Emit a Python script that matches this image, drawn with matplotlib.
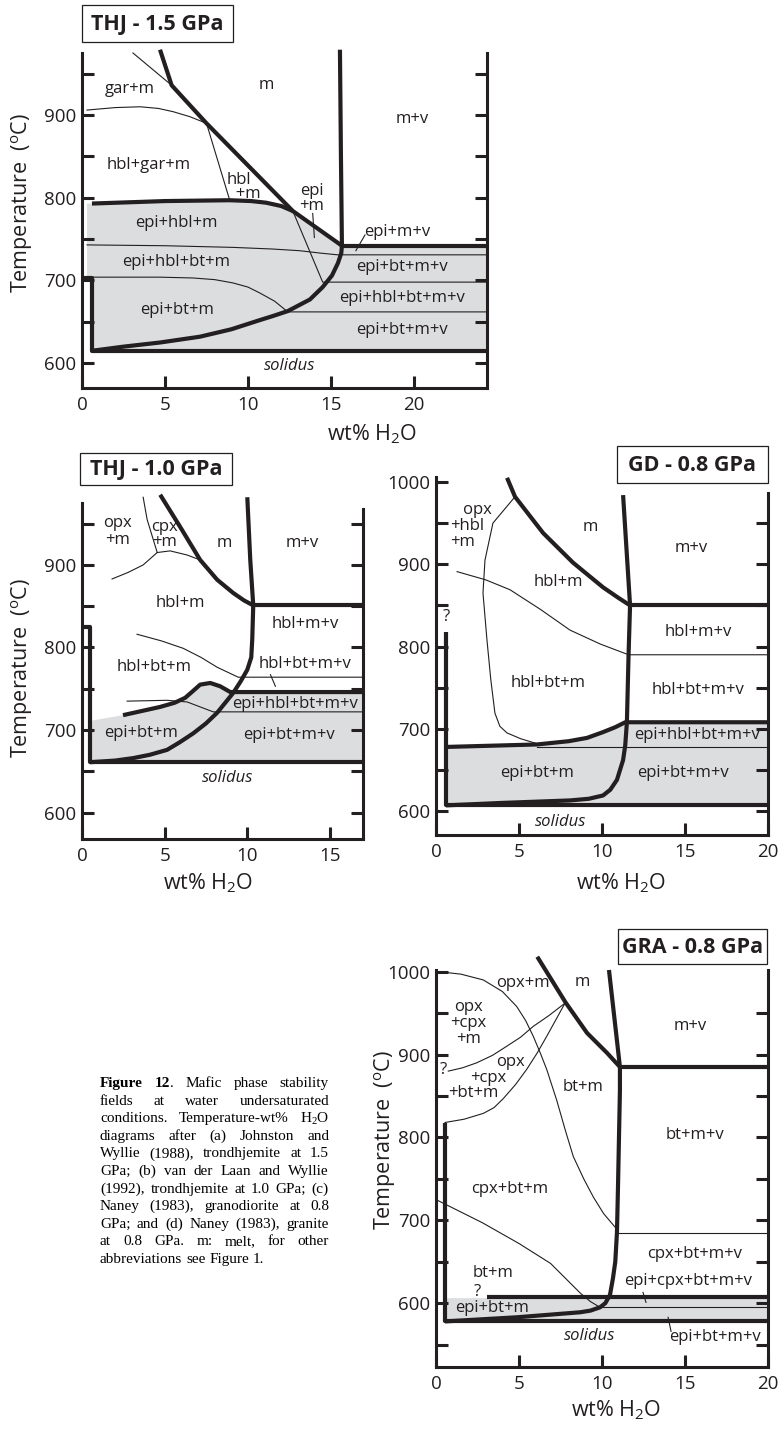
import numpy as np
import matplotlib
matplotlib.use("Agg")
import matplotlib.pyplot as plt
from matplotlib.patches import Rectangle

plt.rcParams['font.family'] = ['Open Sans', 'DejaVu Sans']
plt.rcParams['mathtext.fontset'] = 'custom'
plt.rcParams['mathtext.rm'] = 'Open Sans'
plt.rcParams['mathtext.it'] = 'Open Sans:italic'
plt.rcParams['mathtext.bf'] = 'Open Sans:bold'
plt.rcParams['mathtext.sf'] = 'Liberation Serif'

# ======================= DATA =======================
# ---- Panel (a) THJ - 1.5 GPa ----
A_XLIM = (0, 24.4); A_YLIM = (570, 975)
A_XTICKS = [0, 5, 10, 15, 20]
A_YTICKS = [600, 700, 800, 900]; A_YMINOR = [650, 750, 850, 950]
A_RTICKS = [600, 650, 700, 750, 800, 850, 900, 950]
A_LIQ_X = [4.7, 5.4, 7.5, 12.7, 15.66];  A_LIQ_T = [979, 936, 890, 784, 742]
A_SAT_X = [15.54, 15.6, 15.66, 15.62, 15.42, 15.06, 14.5, 13.73, 12.4, 11.5, 10.7, 9.0, 7.1, 4.7, 2.5, 0.6]
A_SAT_T = [979, 850, 742, 733, 721, 706, 692, 677, 663, 657, 652, 641, 632, 625, 620, 615]
A_EPI_X = [0.6, 5.0, 8.9, 10.2, 11.1, 12.0, 12.7];  A_EPI_T = [793, 796, 797, 796, 794, 790, 784]
A_BOX_X = [0, 0.6, 0.6, 24.4];          A_BOX_T = [703, 703, 615, 615]
A_VAP_X = [15.66, 24.4];                A_VAP_T = [742, 742]
A_T1_X = [3.07, 5.4];                   A_T1_T = [975, 936]
A_T2_X = [0.3, 2.0, 3.5, 4.6, 5.5, 6.5, 7.5]; A_T2_T = [906, 909, 910, 908, 904, 898, 890]
A_T3_X = [7.5, 8.9];                    A_T3_T = [890, 797]
A_T4_X = [0.3, 5.0, 9.1, 11.5, 13.1, 14.4, 15.4, 24.4]; A_T4_T = [743, 742, 740, 738, 736, 733, 731, 731]
A_T5_X = [0.6, 4.7, 6.7, 8.0, 9.1, 10.0, 10.7, 11.6, 12.4, 24.4]
A_T5_T = [704, 704, 703, 701, 697, 692, 685, 675, 662, 662]
A_T6_X = [12.7, 14.5, 24.4];            A_T6_T = [784, 698, 698]
A_L1_X = [13.9, 14.0];                  A_L1_T = [781, 752]
A_L2_X = [17.05, 16.5];                 A_L2_T = [755, 736]
A_GREY_X = [0.3, 0.6, 5.0, 8.9, 10.2, 11.1, 12.0, 12.7, 15.66, 24.4, 24.4, 0.6, 0.6, 0.3]
A_GREY_T = [793, 793, 796, 797, 796, 794, 790, 784, 742, 742, 615, 615, 703, 703]
A_LABELS = [('gar+m', 2.9, 931), ('m', 11.1, 936), ('m+v', 19.9, 895),
            ('hbl+gar+m', 4.0, 840), ('hbl\n  +m', 9.75, 813, 0.88),
            ('epi\n+m', 13.83, 799, 0.95), ('epi+hbl+m', 5.7, 769),
            ('epi+hbl+bt+m', 5.7, 722), ('epi+bt+m', 5.7, 664), ('epi+m+v', 19.0, 759),
            ('epi+bt+m+v', 19.3, 716), ('epi+hbl+bt+m+v', 19.3, 679), ('epi+bt+m+v', 19.3, 640)]
A_SOLIDUS = (12.5, 596)

# ---- Panel (b) THJ - 1.0 GPa ----
B_XLIM = (0, 17.0); B_YLIM = (568, 975)
B_XTICKS = [0, 5, 10, 15]
B_YTICKS = [600, 700, 800, 900]; B_YMINOR = [650, 750, 850, 950]
B_RTICKS = [600, 650, 700, 750, 800, 850, 900, 950]
B_LIQ_X = [4.73, 5.94, 7.15, 8.18, 9.15, 9.8, 10.36]; B_LIQ_T = [985, 946, 906, 882, 866, 857, 851]
B_SAT_X = [10.0, 10.18, 10.36, 10.3, 10.24, 10.0, 9.6, 9.15, 8.18, 7.5, 6.73, 5.9, 5.15, 4.1, 3.1, 2.0, 0.48]
B_SAT_T = [982, 906, 851, 810, 788, 773, 759, 745, 721, 708, 696, 685, 676, 670, 666, 663, 661]
B_VAP_X = [10.36, 17.0];  B_VAP_T = [851, 851]
B_EPI_X = [2.48, 4.73, 5.6, 6.24, 6.7, 7.15, 7.76, 8.36, 8.97, 17.0]
B_EPI_T = [718, 728, 733, 739, 747, 755, 757, 753, 746, 746]
B_BOX_X = [0, 0.48, 0.48, 17.0]; B_BOX_T = [825, 825, 661, 661]
B_T1_X = [3.7, 3.94, 4.55];      B_T1_T = [982, 955, 915]
B_T2_X = [1.82, 2.8, 3.7, 4.55, 5.33, 6.36, 7.15]; B_T2_T = [883, 891, 900, 915, 917, 912, 906]
B_T3_X = [3.33, 4.8, 6.12, 7.2, 8.18, 9.45, 17.0]; B_T3_T = [816, 808, 799, 788, 776, 764, 764]
B_T4_X = [2.73, 5.15, 6.36, 7.94, 17.0];           B_T4_T = [735, 736, 734, 722, 722]
B_L1_X = [11.4, 11.7];  B_L1_T = [767, 753]
B_GREY_X = [0.48, 2.48, 4.73, 5.6, 6.24, 6.7, 7.15, 7.76, 8.36, 8.97, 17.0, 17.0, 0.48]
B_GREY_T = [711, 718, 728, 733, 739, 747, 755, 757, 753, 746, 746, 661, 661]
B_LABELS = [('opx\n+m', 2.15, 940, 1.1), ('cpx\n+m', 5.0, 937, 0.95),
            ('m', 8.6, 927), ('m+v', 13.3, 927), ('hbl+m', 5.94, 854), ('hbl+m+v', 13.5, 828),
            ('hbl+bt+m', 4.36, 776), ('hbl+bt+m+v', 13.5, 780), ('epi+hbl+bt+m+v', 12.9, 732),
            ('epi+bt+m', 3.6, 696), ('epi+bt+m+v', 12.5, 694)]
B_SOLIDUS = (8.8, 642)

# ---- Panel (c) GD - 0.8 GPa ----
C_XLIM = (0, 20); C_YLIM = (571, 1006)
C_XTICKS = [0, 5, 10, 15, 20]
C_YTICKS = [600, 700, 800, 900, 1000]; C_YMINOR = [650, 750, 850, 950]
C_RTICKS = [600, 650, 700, 750, 800, 850, 900, 950]
C_LIQ_X = [4.28, 4.76, 6.45, 8.25, 10.06, 11.0, 11.69]; C_LIQ_T = [1005, 982, 938, 902, 872, 859, 850]
C_SAT_X = [11.27, 11.69, 11.6, 11.5, 11.4, 11.27, 10.9, 10.5, 10.06, 9.2, 8.07, 4.0, 0.6]
C_SAT_T = [984, 850, 790, 708, 680, 662, 638, 626, 619, 615, 613, 610, 607]
C_VAP_X = [11.69, 20]; C_VAP_T = [850, 850]
C_EPI_X = [0.6, 6.08, 8.0, 9.1, 10.06, 10.8, 11.4, 20]; C_EPI_T = [678, 681, 685, 689, 696, 702, 708, 708]
C_BOX_X = [0.6, 0.6, 20]; C_BOX_T = [818, 607, 607]
C_T1_X = [1.27, 3.0, 4.46, 6.3, 8.07, 9.9, 11.6, 20];  C_T1_T = [891, 881, 869, 845, 820, 803, 790, 790]
C_T2_X = [4.76, 3.43, 2.95, 2.83, 3.07, 3.3, 3.55, 3.85, 4.28, 5.1, 6.08]
C_T2_T = [982, 950, 905, 865, 808, 760, 719, 703, 695, 688, 682]
C_T3_X = [6.08, 20];  C_T3_T = [678, 678]
C_GREY_X = [0.6, 6.08, 8.0, 9.1, 10.06, 10.8, 11.4, 20, 20, 0.6]
C_GREY_T = [678, 681, 685, 689, 696, 702, 708, 708, 607, 607]
C_LABELS = [('   opx\n+hbl\n+m', 2.1, 946, 1.0), ('m', 9.28, 945),
            ('m+v', 15.4, 920), ('hbl+m', 7.4, 878), ('hbl+m+v', 15.8, 818),
            ('hbl+bt+m', 6.75, 756), ('hbl+bt+m+v', 15.8, 747), ('epi+hbl+bt+m+v', 15.7, 692),
            ('epi+bt+m', 6.1, 646), ('epi+bt+m+v', 14.9, 646), ('?', 0.6, 836)]
C_SOLIDUS = (7.5, 587)

# ---- Panel (d) GRA - 0.8 GPa ----
D_XLIM = (0, 20); D_YLIM = (523, 1002)
D_XTICKS = [0, 5, 10, 15, 20]
D_YTICKS = [600, 700, 800, 900, 1000]; D_YMINOR = [550, 650, 750, 850, 950]
D_RTICKS = [550, 600, 650, 700, 750, 800, 850, 900, 950]
D_LIQ_X = [6.1, 7.8, 9.1, 10.3, 11.08]; D_LIQ_T = [1018, 963, 926, 902, 885]
D_SAT_X = [10.42, 11.08, 11.08, 10.96, 10.9, 10.8, 10.66, 10.48, 10.2, 9.88, 9.3, 8.67, 4.88, 0.54]
D_SAT_T = [1002, 885, 857, 737, 685, 650, 630, 610, 600, 595, 591, 589, 583, 578]
D_VAP_X = [11.08, 20]; D_VAP_T = [885, 885]
D_EPI_X = [3.1, 20];   D_EPI_T = [607, 607]
D_BOX_X = [0.54, 0.54, 20]; D_BOX_T = [818, 578, 578]
D_T1_X = [0.14, 1.5, 2.85, 4.0, 4.86, 5.4, 5.86, 6.3, 6.67, 7.27, 7.8, 8.27, 8.9, 9.48, 10.1, 10.78]
D_T1_T = [1000, 997, 990, 976, 958, 941, 922, 901, 882, 845, 808, 777, 750, 728, 708, 692]
D_T2_X = [0.74, 1.6, 2.45, 3.4, 4.26, 5.1, 5.86, 6.8, 7.77]
D_T2_T = [880, 884, 890, 899, 910, 921, 934, 947, 962]
D_T3_X = [0.54, 1.7, 2.85, 3.5, 4.06, 4.8, 5.46, 6.1, 6.67, 7.25, 7.77]
D_T3_T = [818, 822, 829, 836, 847, 864, 882, 902, 922, 943, 962]
D_T4_X = [0, 2.8, 5.0, 6.9, 8.0, 8.7, 9.3, 9.88]; D_T4_T = [725, 697, 672, 648, 626, 612, 602, 595]
D_T5_X = [10.9, 20]; D_T5_T = [685, 685]
D_T6_X = [9.88, 20]; D_T6_T = [595, 595]
D_L1_X = [12.47, 12.65]; D_L1_T = [613, 601]
D_L2_X = [13.98, 14.16]; D_L2_T = [583, 566]
D_GREY_X = [0.54, 20, 20, 0.54]; D_GREY_T = [606, 607, 578, 577]
D_LABELS = [('opx+m', 5.24, 986), ('m', 8.8, 987), ('m+v', 15.3, 934),
            ('opx\n+cpx\n+m', 1.95, 938, 1.0),
            ('opx', 4.46, 891), ('+cpx', 3.13, 872), ('+bt+m', 2.23, 854),
            ('bt+m', 8.86, 861), ('bt+m+v', 15.6, 803), ('cpx+bt+m', 4.46, 738),
            ('cpx+bt+m+v', 15.6, 659), ('epi+cpx+bt+m+v', 15.2, 627), ('bt+m', 3.43, 636),
            ('epi+bt+m', 3.37, 594), ('epi+bt+m+v', 16.8, 559), ('?', 2.47, 613), ('?', 0.42, 881)]
D_SOLIDUS = (9.28, 561)

TITLES = ['THJ - 1.5 GPa', 'THJ - 1.0 GPa', 'GD - 0.8 GPa', 'GRA - 0.8 GPa']
XLABEL = 'wt% H$_\\mathrm{2}$O'
YLABEL = 'Temperature  ($^\\mathrm{o}$C)'

CAP_LINES = [
    "Figure 12. Mafic phase stability",
    "fields at water undersaturated",
    "conditions. Temperature-wt% H$_\\mathsf{2}$O",
    "diagrams after (a) Johnston and",
    "Wyllie (1988), trondhjemite at 1.5",
    "GPa; (b) van der Laan and Wyllie",
    "(1992), trondhjemite at 1.0 GPa; (c)",
    "Naney (1983), granodiorite at 0.8",
    "GPa; and (d) Naney (1983), granite",
    "at 0.8 GPa. m: melt, for other",
    "abbreviations see Figure 1.",
]

# ======================= STYLE =======================
W, H = 778, 1430
INK = '#231f20'
GREY = '#dcdddf'
LW_THICK = 3.0
LW_THIN = 0.8
LW_AXIS = 2.2
FS_TICK = 13.5
FS_AXLAB = 15.5
FS_FIELD = 12
FS_TITLE = 15.5
FS_CAP = 11
SERIF = ['Liberation Serif', 'DejaVu Serif']

fig = plt.figure(figsize=(W / 100, H / 100), dpi=100)


def px_axes(left, right, top, bottom):
    return fig.add_axes([left / W, 1 - bottom / H, (right - left) / W, (bottom - top) / H])


def panel(ax, xlim, ylim, xticks, yticks, yminor, rticks, rtop,
          thick, thin, grey, labels, solidus):
    ax.set_xlim(*xlim)
    ax.set_ylim(*ylim)
    ax.patch.set_visible(False)
    ax.fill(grey[0], grey[1], color=GREY, lw=0, zorder=1)
    for xs, ts in thin:
        ax.plot(xs, ts, color=INK, lw=LW_THIN, clip_on=False, zorder=2,
                solid_joinstyle='round')
    for xs, ts in thick:
        ax.plot(xs, ts, color=INK, lw=LW_THICK, solid_capstyle='butt',
                solid_joinstyle='round', clip_on=False, zorder=3)
    for lab in labels:
        txt, x, t = lab[:3]
        ls = lab[3] if len(lab) > 3 else 1.0
        ax.text(x, t, txt, ha='center', va='center', fontsize=FS_FIELD, color=INK,
                zorder=4, linespacing=ls,
                multialignment='left' if '  ' in txt else 'center')
    ax.text(solidus[0], solidus[1], 'solidus', ha='center', va='center',
            fontsize=FS_FIELD, style='italic', color=INK)
    ax.spines['top'].set_visible(False)
    ax.spines['right'].set_visible(False)
    for s in ['left', 'bottom']:
        ax.spines[s].set_linewidth(LW_AXIS)
        ax.spines[s].set_color(INK)
    ax.set_xticks(xticks)
    ax.set_yticks(yticks)
    ax.set_yticks(yminor, minor=True)
    ax.tick_params(axis='both', which='both', direction='in', length=8.5, width=LW_AXIS,
                   color=INK, labelsize=FS_TICK, labelcolor=INK)
    ax.tick_params(axis='y', which='both', right=False, pad=4)
    ax.tick_params(axis='x', pad=6)
    tw = ax.twinx()
    tw.set_ylim(*ylim)
    tw.patch.set_visible(False)
    for s in ['left', 'bottom', 'top']:
        tw.spines[s].set_visible(False)
    tw.spines['right'].set_linewidth(LW_AXIS)
    tw.spines['right'].set_color(INK)
    tw.spines['right'].set_bounds(ylim[0], rtop)
    tw.set_yticks(rticks)
    tw.tick_params(axis='y', direction='in', length=8.5, width=LW_AXIS, color=INK,
                   labelright=False)


axA = px_axes(82, 487, 53, 388)
panel(axA, A_XLIM, A_YLIM, A_XTICKS, A_YTICKS, A_YMINOR, A_RTICKS, A_YLIM[1],
      [(A_LIQ_X, A_LIQ_T), (A_SAT_X, A_SAT_T), (A_EPI_X, A_EPI_T), (A_BOX_X, A_BOX_T),
       (A_VAP_X, A_VAP_T)],
      [(A_T1_X, A_T1_T), (A_T2_X, A_T2_T), (A_T3_X, A_T3_T), (A_T4_X, A_T4_T),
       (A_T5_X, A_T5_T), (A_T6_X, A_T6_T), (A_L1_X, A_L1_T), (A_L2_X, A_L2_T)],
      (A_GREY_X, A_GREY_T), A_LABELS, A_SOLIDUS)

axB = px_axes(82, 363, 503, 839)
panel(axB, B_XLIM, B_YLIM, B_XTICKS, B_YTICKS, B_YMINOR, B_RTICKS, 968,
      [(B_LIQ_X, B_LIQ_T), (B_SAT_X, B_SAT_T), (B_EPI_X, B_EPI_T), (B_BOX_X, B_BOX_T),
       (B_VAP_X, B_VAP_T)],
      [(B_T1_X, B_T1_T), (B_T2_X, B_T2_T), (B_T3_X, B_T3_T), (B_T4_X, B_T4_T),
       (B_L1_X, B_L1_T)],
      (B_GREY_X, B_GREY_T), B_LABELS, B_SOLIDUS)

axC = px_axes(436, 768, 477, 835)
panel(axC, C_XLIM, C_YLIM, C_XTICKS, C_YTICKS, C_YMINOR, C_RTICKS, 987,
      [(C_LIQ_X, C_LIQ_T), (C_SAT_X, C_SAT_T), (C_EPI_X, C_EPI_T), (C_BOX_X, C_BOX_T),
       (C_VAP_X, C_VAP_T)],
      [(C_T1_X, C_T1_T), (C_T2_X, C_T2_T), (C_T3_X, C_T3_T)],
      (C_GREY_X, C_GREY_T), C_LABELS, C_SOLIDUS)

axD = px_axes(436, 768, 970, 1367)
panel(axD, D_XLIM, D_YLIM, D_XTICKS, D_YTICKS, D_YMINOR, D_RTICKS, D_YLIM[1],
      [(D_LIQ_X, D_LIQ_T), (D_SAT_X, D_SAT_T), (D_EPI_X, D_EPI_T), (D_BOX_X, D_BOX_T),
       (D_VAP_X, D_VAP_T)],
      [(D_T1_X, D_T1_T), (D_T2_X, D_T2_T), (D_T3_X, D_T3_T), (D_T4_X, D_T4_T),
       (D_T5_X, D_T5_T), (D_T6_X, D_T6_T), (D_L1_X, D_L1_T), (D_L2_X, D_L2_T)],
      (D_GREY_X, D_GREY_T), D_LABELS, D_SOLIDUS)


def ftext(x, y, s, **kw):
    return fig.text(x / W, 1 - y / H, s, **kw)


# axis labels
for (x, y) in [(372, 434), (208, 883), (621, 883), (616, 1410)]:
    ftext(x, y, XLABEL, ha='center', va='center', fontsize=FS_AXLAB, color=INK)
for (x, y) in [(22, 203), (22, 668), (385, 1140)]:
    ftext(x, y, YLABEL, ha='center', va='center', rotation=90, fontsize=FS_AXLAB, color=INK)

# title boxes
for title, (x0, x1, y0, y1) in zip(TITLES, [(82, 233, 5, 42), (80, 232, 453, 485),
                                            (617, 768, 446, 483), (618, 767, 929, 964)]):
    fig.add_artist(Rectangle((x0 / W, 1 - y1 / H), (x1 - x0) / W, (y1 - y0) / H,
                             transform=fig.transFigure, fill=False, lw=0.9, ec=INK))
    ftext((x0 + x1) / 2, (y0 + y1) / 2 + 1, title, ha='center', va='center',
          fontsize=FS_TITLE, weight='bold', color=INK)

# justified caption
renderer = fig.canvas.get_renderer()


def seg_width(s, weight):
    t = fig.text(0, 0, s, fontsize=FS_CAP, family=SERIF, weight=weight)
    w = t.get_window_extent(renderer).width
    t.remove()
    return w


CAP_X0, CAP_X1, CAP_Y0, CAP_DY = 100, 329, 1087, 17.6
for i, line in enumerate(CAP_LINES):
    words = []
    for w in line.split(' '):
        if i == 0 and w == 'Figure':
            words.append([(w, 'bold')])
        elif i == 0 and w == '12.':
            words.append([('12', 'bold'), ('.', 'normal')])
        else:
            words.append([(w, 'normal')])
    widths = [[seg_width(s, wt) for s, wt in word] for word in words]
    total = sum(sum(ws) for ws in widths)
    if i == len(CAP_LINES) - 1:
        gap = seg_width('a b', 'normal') - seg_width('ab', 'normal')
    else:
        gap = (CAP_X1 - CAP_X0 - total) / (len(words) - 1)
    x = CAP_X0
    y = CAP_Y0 + i * CAP_DY
    for word, ws in zip(words, widths):
        for (s, wt), wd in zip(word, ws):
            ftext(x, y, s, ha='left', va='baseline', fontsize=FS_CAP, family=SERIF,
                  weight=wt, color='black')
            x += wd
        x += gap

fig.savefig('out.png', dpi=100)
